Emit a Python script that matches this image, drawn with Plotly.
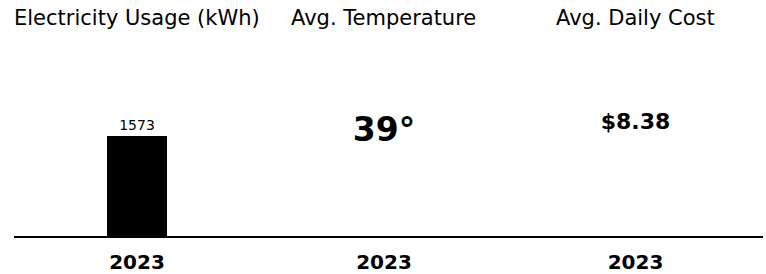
import plotly.graph_objects as go

# Data
years = ["2023"]
usage_kwh = [1573]
avg_temp = [39]
avg_daily_cost = [8.38]
titles = ["Electricity Usage (kWh)", "Avg. Temperature", "Avg. Daily Cost"]

W, H = 766, 274
FONT = "DejaVu Sans, Verdana, sans-serif"

# panel domains in pixels
px = [(14, 260), (260, 508), (508, 763)]
dom = [(a / W, b / W) for a, b in px]
ydom = [(274 - 236) / H, (274 - 50) / H]

fig = go.Figure()

fig.add_trace(go.Bar(
    x=years, y=usage_kwh, xaxis="x", yaxis="y",
    marker=dict(color="black", line=dict(width=0)),
    width=0.244,
    text=[str(v) for v in usage_kwh], textposition="outside",
    textfont=dict(family=FONT, size=14, color="black"),
    cliponaxis=False, hoverinfo="skip",
))
fig.add_trace(go.Scatter(
    x=years, y=avg_temp, xaxis="x2", yaxis="y2", mode="text",
    text=[f"{v}°" for v in avg_temp], textposition="middle center",
    textfont=dict(family=FONT, size=33, color="black", weight="bold"),
    hoverinfo="skip", cliponaxis=False,
))
fig.add_trace(go.Scatter(
    x=years, y=avg_daily_cost, xaxis="x3", yaxis="y3", mode="text",
    text=[f"${v:.2f}" for v in avg_daily_cost], textposition="middle center",
    textfont=dict(family=FONT, size=22, color="black", weight="bold"),
    hoverinfo="skip", cliponaxis=False,
))

xcommon = dict(type="category", range=[-0.5, 0.5], showline=True, linecolor="black",
               linewidth=2, showgrid=False, zeroline=False, ticks="",
               tickfont=dict(family=FONT, size=20, color="black", weight="bold"),
               ticklabelstandoff=7, fixedrange=True)
ycommon = dict(visible=False, showgrid=False, zeroline=False, fixedrange=True)

layout = dict(
    width=W, height=H, margin=dict(l=0, r=0, t=0, b=0),
    paper_bgcolor="white", plot_bgcolor="white", showlegend=False,
    font=dict(family=FONT, color="black"),
)
yranges = [[0, 2926], [0, 70.1], [0, 13.9]]
for i in range(3):
    s = "" if i == 0 else str(i + 1)
    layout["xaxis" + s] = dict(xcommon, domain=dom[i], anchor="y" + s)
    layout["yaxis" + s] = dict(ycommon, domain=ydom, anchor="x" + s, range=yranges[i])
fig.update_layout(**layout)

for i, t in enumerate(titles):
    fig.add_annotation(
        text=t, xref="paper", yref="paper",
        x=(dom[i][0] + dom[i][1]) / 2, y=(274 - 18) / H,
        xanchor="center", yanchor="middle", showarrow=False,
        font=dict(family=FONT, size=21, color="black"),
    )

fig.write_html("out.html", config={"displayModeBar": False},
               post_script="document.body.style.margin='0';document.body.style.overflow='hidden';")
